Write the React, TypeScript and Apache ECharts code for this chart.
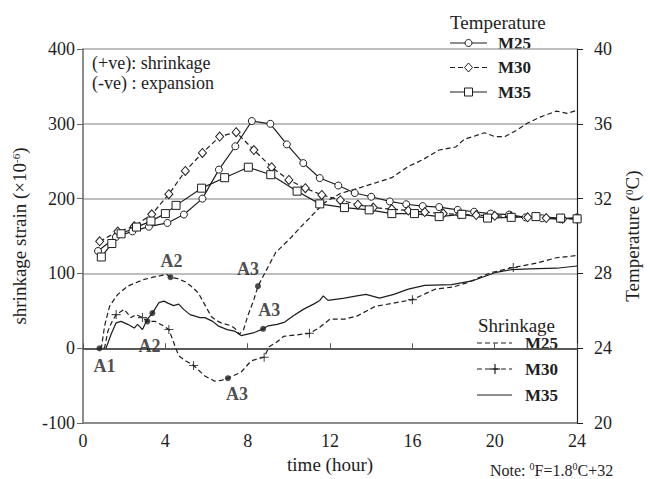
import React, { useEffect, useRef } from "react";
import * as echarts from "echarts";

const SERIF = "'Liberation Serif', 'Times New Roman', serif";
const INK = "#1e1e1e";

// axis ranges
const hourRange = { min: 0, max: 24, step: 4 };
const strainRange = { min: -100, max: 400, step: 100 };
const tempRange = { min: 20, max: 40, step: 4 };

const mixNames = ["M25", "M30", "M35"];

// concrete temperature (°C) at the marker positions
const tempHoursM25 = [0.73, 1.6, 2.4, 3.2, 4.1, 4.9, 5.8, 6.6, 7.4, 8.2, 9.1, 9.9, 10.7, 11.5, 12.4, 13.2, 14.0, 14.9, 15.7, 16.5, 17.3, 18.2, 19.0, 19.8, 20.7, 21.5, 22.3, 23.2, 24.0];
const tempM25 = [29.2, 29.95, 30.25, 30.5, 30.7, 31.15, 32.0, 33.55, 34.8, 36.15, 36.0, 34.9, 33.9, 33.1, 32.7, 32.3, 32.1, 31.85, 31.7, 31.6, 31.55, 31.4, 31.3, 31.2, 31.15, 31.0, 30.95, 30.9, 31.0];

const tempHoursM30 = [0.81, 1.69, 2.49, 3.34, 4.17, 4.97, 5.8, 6.64, 7.44, 8.3, 9.16, 10.0, 10.8, 11.6, 12.5, 13.35, 14.1, 15.0, 15.8, 16.6, 17.5, 18.3, 19.1, 20.0, 20.8, 21.6, 22.5, 23.3, 24.0];
const tempM30 = [29.72, 30.24, 30.52, 31.16, 32.24, 33.48, 34.44, 35.32, 35.55, 34.6, 33.68, 33.0, 32.56, 32.2, 31.92, 31.68, 31.52, 31.44, 31.36, 31.28, 31.2, 31.16, 31.12, 31.08, 31.04, 31.0, 30.96, 30.92, 30.92];

const tempHoursM35 = [0.89, 1.4, 1.85, 2.6, 3.3, 4.0, 4.52, 5.76, 6.88, 8.03, 9.12, 10.4, 11.5, 12.7, 13.9, 15.0, 16.1, 17.3, 18.4, 19.65, 20.8, 22.0, 23.2, 24.0];
const tempM35 = [28.88, 29.6, 30.12, 30.48, 30.8, 31.2, 31.64, 32.56, 33.12, 33.68, 33.28, 32.4, 31.72, 31.52, 31.4, 31.2, 31.2, 31.04, 31.16, 30.96, 31.0, 31.04, 30.96, 30.92];

// shrinkage strain (×10^-6)
const shrinkHoursM25 = [0.8, 0.9, 1.05, 1.13, 1.29, 1.53, 1.69, 2.17, 2.5, 2.97, 3.4, 3.77, 4.05, 4.25, 4.6, 4.96, 5.3, 5.6, 5.92, 6.24, 6.56, 6.72, 7.2, 7.4, 7.6, 7.8, 8.0, 8.3, 8.5, 8.88, 9.36, 10.07, 10.5, 11.0, 11.7, 12.5, 13.5, 14.2, 15.0, 15.8, 16.5, 17.3, 18.1, 18.5, 19.5, 20.0, 20.5, 21.1, 21.6, 22.2, 23.0, 23.5, 24.0];
const shrinkM25 = [0, 2, 30, 39, 56, 66, 72, 83, 87, 92, 95, 97, 99, 95, 93, 89, 82, 74, 58, 42, 36, 34, 30, 26, 19, 25, 43, 65, 83, 103, 128, 147, 160, 174, 194, 207, 215, 221, 228, 243, 252, 265, 269, 279, 288, 283, 283, 292, 301, 309, 317, 314, 318];

const shrinkHoursM30 = [1.0, 1.05, 1.21, 1.4, 1.61, 2.0, 2.33, 2.57, 2.89, 3.13, 3.5, 3.9, 4.17, 4.4, 4.65, 5.0, 5.37, 5.92, 6.4, 6.7, 7.04, 7.68, 8.16, 8.5, 8.8, 9.04, 9.4, 9.75, 10.4, 11.0, 11.5, 12.0, 12.7, 13.3, 14.2, 15.0, 16.0, 17.1, 18.0, 18.7, 19.8, 20.9, 22.05, 23.0, 24.0];
const shrinkM30 = [0, 1, 23, 35, 45, 52, 41, 45, 41, 36, 36, 30, 25, 8, -10, -17, -23, -37, -44, -43, -40, -32, -17, -14, -12, 2, 8, 16, 18, 20, 28, 39, 39, 43, 56, 60, 65, 79, 82, 88, 101, 108, 114, 121, 124];

const shrinkHoursM35 = [1.1, 1.13, 1.37, 1.61, 1.85, 2.17, 2.49, 2.65, 2.89, 3.13, 3.37, 3.69, 3.93, 4.15, 4.4, 4.65, 4.89, 5.2, 5.68, 5.92, 6.3, 6.56, 7.0, 7.36, 7.68, 7.84, 8.32, 8.75, 9.0, 9.43, 9.8, 10.2, 10.7, 11.2, 11.5, 11.67, 11.9, 12.7, 13.3, 13.75, 14.4, 15.1, 15.8, 16.6, 17.9, 18.9, 20.0, 20.8, 21.7, 23.0, 24.0];
const shrinkM35 = [0, 1, 19, 34, 36, 32, 27, 32, 25, 39, 47, 61, 63, 60, 57, 59, 52, 45, 41, 41, 36, 30, 25, 23, 17, 18, 21, 26, 30, 32, 35, 43, 52, 59, 64, 70, 64, 67, 70, 72, 67, 72, 79, 84, 85, 90, 101, 105, 106, 107, 110];

// hours on the M30 shrinkage curve that carry a "+" marker
const plusHoursM30 = [1.61, 2.89, 4.17, 5.37, 8.8, 11.0, 16.0, 20.9];

// stage points A1–A3 on the shrinkage curves
const stagePoints = [
  { label: "A1", mix: "M25", hour: 0.8 },
  { label: "A2", mix: "M25", hour: 4.25 },
  { label: "A2", mix: "M30", hour: 3.13 },
  { label: "", mix: "M35", hour: 3.37 },
  { label: "A3", mix: "M25", hour: 8.5 },
  { label: "A3", mix: "M35", hour: 8.75 },
  { label: "A3", mix: "M30", hour: 7.04 },
];

const noteLines = ["(+ve): shrinkage", "(-ve) : expansion"];

// label placement of each stage point (pixels from its dot)
const stageLabelOffsets: number[][] = [
  [5, 18],
  [1, -16],
  [2, 25],
  [0, 0],
  [-10, -17],
  [6, -19],
  [9, 16],
];

const pairs = (h: number[], v: number[]) => h.map((x, i) => [x, v[i]]);

const shrinkData: Record<string, number[][]> = {
  M25: pairs(shrinkHoursM25, shrinkM25),
  M30: pairs(shrinkHoursM30, shrinkM30),
  M35: pairs(shrinkHoursM35, shrinkM35),
};
const valueAt = (mix: string, hour: number) => {
  const p = shrinkData[mix].find((d) => d[0] === hour);
  return p ? p[1] : 0;
};

const PLUS = "path://M0,4.4H10V5.6H0ZM4.4,0H5.6V10H4.4Z";

function buildLegend() {
  const els: any[] = [];
  const tempSymbols = ["circle", "diamond", "rect"];
  els.push({
    type: "text",
    x: 450,
    y: 22,
    style: { text: "Temperature", font: `19px ${SERIF}`, fill: INK, align: "left", verticalAlign: "middle" },
  });
  mixNames.forEach((name, i) => {
    const y = 43 + i * 24.5;
    els.push({
      type: "line",
      shape: { x1: 450, y1: y, x2: 487, y2: y },
      style: { stroke: INK, lineWidth: 1.2, lineDash: i === 1 ? [5, 3] : null },
    });
    const cx = 468.5;
    if (tempSymbols[i] === "circle") {
      els.push({ type: "circle", shape: { cx, cy: y, r: 3.5 }, style: { fill: "#fff", stroke: INK, lineWidth: 1 } });
    } else if (tempSymbols[i] === "diamond") {
      els.push({
        type: "polygon",
        shape: { points: [[cx, y - 4.5], [cx + 4, y], [cx, y + 4.5], [cx - 4, y]] },
        style: { fill: "#fff", stroke: INK, lineWidth: 1 },
      });
    } else {
      els.push({ type: "rect", shape: { x: cx - 4, y: y - 4, width: 8, height: 8 }, style: { fill: "#fff", stroke: INK, lineWidth: 1 } });
    }
    els.push({
      type: "text",
      x: 498,
      y,
      style: { text: name, font: `bold 17px ${SERIF}`, fill: INK, align: "left", verticalAlign: "middle" },
    });
  });

  els.push({
    type: "text",
    x: 478,
    y: 325,
    style: { text: "Shrinkage", font: `19px ${SERIF}`, fill: INK, align: "left", verticalAlign: "middle" },
  });
  mixNames.forEach((name, i) => {
    const y = 343 + i * 26;
    els.push({
      type: "line",
      shape: { x1: 477, y1: y, x2: 512, y2: y },
      style: { stroke: INK, lineWidth: 1.1, lineDash: i < 2 ? [5, 3] : null },
    });
    if (i === 1) {
      els.push({ type: "rect", shape: { x: 490, y: y - 0.6, width: 10, height: 1.2 }, style: { fill: INK } });
      els.push({ type: "rect", shape: { x: 494.4, y: y - 5, width: 1.2, height: 10 }, style: { fill: INK } });
    }
    els.push({
      type: "text",
      x: 525,
      y,
      style: { text: name, font: `bold 17px ${SERIF}`, fill: INK, align: "left", verticalAlign: "middle" },
    });
  });

  noteLines.forEach((t, i) => {
    els.push({
      type: "text",
      x: 92,
      y: 63 + i * 20,
      style: { text: t, font: `18px ${SERIF}`, fill: INK, align: "left", verticalAlign: "middle" },
    });
  });

  els.push({
    type: "text",
    x: 490,
    y: 470,
    style: {
      text: "Note: {s|0}F=1.8{s|0}C+32",
      font: `16px ${SERIF}`,
      fill: INK,
      align: "left",
      verticalAlign: "middle",
      lineHeight: 18,
      rich: { s: { font: `10px ${SERIF}`, fill: INK, verticalAlign: "top", lineHeight: 10 } },
    },
  });
  return els;
}

export default function App() {
  const ref = useRef<HTMLDivElement>(null);

  useEffect(() => {
    if (!ref.current) return;
    const chart = echarts.init(ref.current, undefined, { renderer: "svg" });

    const axisLabel = { fontFamily: SERIF, fontSize: 18, color: INK };
    const nameStyle = {
      fontFamily: SERIF,
      fontSize: 19,
      color: INK,
      rich: { sup: { fontFamily: SERIF, fontSize: 11, color: INK, verticalAlign: "top", lineHeight: 10 } },
    };

    const tempSeries = [
      { mix: "M25", h: tempHoursM25, v: tempM25, symbol: "circle", size: 7, dash: "solid" },
      { mix: "M30", h: tempHoursM30, v: tempM30, symbol: "diamond", size: [8, 9], dash: [5, 3] },
      { mix: "M35", h: tempHoursM35, v: tempM35, symbol: "rect", size: 8, dash: "solid" },
    ].map((s) => ({
      name: `Temperature ${s.mix}`,
      type: "line",
      yAxisIndex: 1,
      data: pairs(s.h, s.v),
      symbol: s.symbol,
      symbolSize: s.size,
      showAllSymbol: true,
      lineStyle: { color: INK, width: 1.2, type: s.dash },
      itemStyle: { color: "#fff", borderColor: INK, borderWidth: 1 },
      z: 3,
    }));

    const shrinkSeries = mixNames.map((mix) => ({
      name: `Shrinkage ${mix}`,
      type: "line",
      yAxisIndex: 0,
      data: shrinkData[mix],
      symbol: "none",
      lineStyle: { color: INK, width: 1.2, type: mix === "M35" ? "solid" : [5, 3] },
      z: 2,
    }));

    const plusSeries = {
      name: "M30 markers",
      type: "scatter",
      yAxisIndex: 0,
      symbol: PLUS,
      symbolSize: 9,
      itemStyle: { color: INK },
      data: plusHoursM30.map((h) => [h, valueAt("M30", h)]),
      z: 4,
    };

    const stageSeries = {
      name: "Stages",
      type: "scatter",
      yAxisIndex: 0,
      symbol: "circle",
      symbolSize: 6,
      itemStyle: { color: INK },
      z: 5,
      data: stagePoints.map((p, i) => ({
        value: [p.hour, valueAt(p.mix, p.hour)],
        label: {
          show: p.label !== "",
          formatter: p.label,
          position: "inside",
          offset: stageLabelOffsets[i],
          fontFamily: SERIF,
          fontSize: 18,
          fontWeight: "bold",
          color: INK,
        },
      })),
    };

    chart.setOption({
      animation: false,
      backgroundColor: "#fff",
      textStyle: { fontFamily: SERIF },
      grid: { left: 83, right: 66, top: 49, bottom: 55 },
      xAxis: {
        type: "value",
        min: hourRange.min,
        max: hourRange.max,
        interval: hourRange.step,
        name: "time (hour)",
        nameLocation: "middle",
        nameGap: 28,
        nameTextStyle: nameStyle,
        axisLine: { lineStyle: { color: "#555", width: 1.5 } },
        axisTick: { inside: true, length: 5, lineStyle: { color: "#555" } },
        axisLabel: { ...axisLabel, margin: 9 },
        splitLine: { show: false },
      },
      yAxis: [
        {
          type: "value",
          position: "left",
          min: strainRange.min,
          max: strainRange.max,
          interval: strainRange.step,
          name: "shrinkage strain (×10{sup|-6})",
          nameLocation: "middle",
          nameGap: 54,
          nameTextStyle: nameStyle,
          axisLine: { show: true, lineStyle: { color: "#666", width: 1.5 } },
          axisTick: { show: true, length: 6, lineStyle: { color: "#666" } },
          axisLabel: { ...axisLabel, margin: 8 },
          splitLine: {
            show: true,
            lineStyle: { color: ["#666", "#333", "#a8a8a8", "#a8a8a8", "#a8a8a8", "#a8a8a8"], width: 1.6 },
          },
        },
        {
          type: "value",
          position: "right",
          min: tempRange.min,
          max: tempRange.max,
          interval: tempRange.step,
          name: "Temperature ({sup|0}C)",
          nameLocation: "middle",
          nameGap: 38,
          nameTextStyle: nameStyle,
          axisLine: { show: true, lineStyle: { color: "#222", width: 1.2 } },
          axisTick: { show: true, length: 6, lineStyle: { color: "#222" } },
          axisLabel: { ...axisLabel, margin: 17 },
          splitLine: { show: false },
        },
      ],
      series: [...shrinkSeries, plusSeries, ...tempSeries, stageSeries],
      graphic: buildLegend(),
    });

    return () => chart.dispose();
  }, []);

  return <div ref={ref} style={{ position: "fixed", left: 0, top: 0, width: 650, height: 479 }} />;
}
